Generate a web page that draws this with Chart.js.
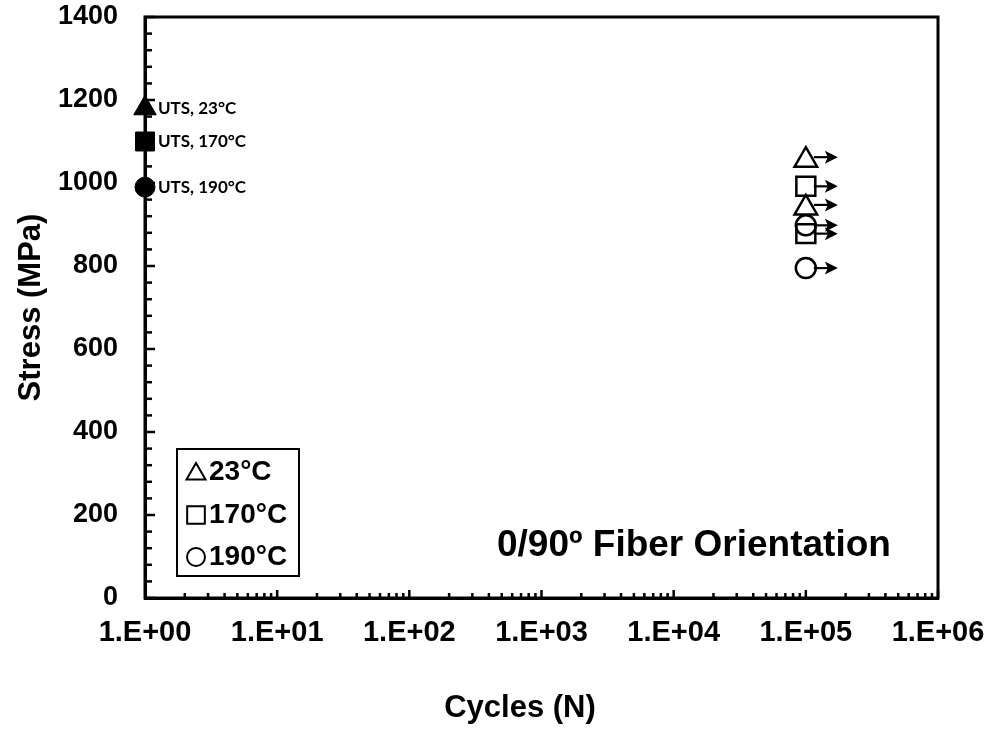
<!DOCTYPE html>
<html>
<head>
<meta charset="utf-8">
<script src="https://cdn.jsdelivr.net/npm/chart.js@4"></script>
<style>
  html, body { margin: 0; padding: 0; background: #fff; }
</style>
</head>
<body>
<canvas id="snChart" width="990" height="729"></canvas>
<script>
// data
const temps = ['23°C', '170°C', '190°C'];
const utsCycles = [1, 1, 1];
const utsStress = [1180, 1100, 990];
const runoutCycles = [1e5, 1e5];
const runout23 = [1055, 940];
const runout170 = [992, 878];
const runout190 = [898, 795];
const yTickValues = [0, 200, 400, 600, 800, 1000, 1200, 1400];
const xTickValues = [1, 10, 100, 1000, 10000, 100000, 1000000];
const xTickLabels = ['1.E+00', '1.E+01', '1.E+02', '1.E+03', '1.E+04', '1.E+05', '1.E+06'];

const FONT = "'Liberation Sans', Arial, sans-serif";
const shapes = ['triangle', 'rect', 'circle'];
const radii = [13, 13.4, 10];
const runouts = [runout23, runout170, runout190];

const datasets = [];
temps.forEach((t, i) => {
  datasets.push({
    label: 'UTS, ' + t,
    data: [{ x: utsCycles[i], y: utsStress[i] }],
    pointStyle: shapes[i],
    pointRadius: radii[i],
    backgroundColor: '#000',
    borderColor: '#000',
    borderWidth: 1,
    clip: false
  });
});
temps.forEach((t, i) => {
  datasets.push({
    label: t,
    runout: true,
    data: runoutCycles.map((c, j) => ({ x: c, y: runouts[i][j] })),
    pointStyle: shapes[i],
    pointRadius: radii[i],
    backgroundColor: 'rgba(0,0,0,0)',
    borderColor: '#000',
    borderWidth: 2.5,
    clip: false
  });
});

function marker(ctx, shape, cx, cy, r) {
  ctx.beginPath();
  if (shape === 'triangle') {
    ctx.moveTo(cx, cy - r);
    ctx.lineTo(cx + r * 0.866, cy + r / 2);
    ctx.lineTo(cx - r * 0.866, cy + r / 2);
    ctx.closePath();
  } else if (shape === 'rect') {
    const s = r * Math.SQRT1_2;
    ctx.rect(cx - s, cy - s, 2 * s, 2 * s);
  } else {
    ctx.arc(cx, cy, r, 0, Math.PI * 2);
  }
  ctx.stroke();
}

const decor = {
  id: 'decor',
  afterDraw(chart) {
    const { ctx, chartArea: a, scales: { x, y } } = chart;
    ctx.save();
    ctx.strokeStyle = '#000';
    ctx.fillStyle = '#000';

    // inside tick marks
    ctx.lineWidth = 2.5;
    for (let v = 0; v <= 1400; v += 40) {
      const py = y.getPixelForValue(v);
      const len = v % 200 === 0 ? 10 : 7;
      ctx.beginPath();
      ctx.moveTo(a.left, py);
      ctx.lineTo(a.left + len, py);
      ctx.stroke();
    }
    for (let d = 1; d < 1e6; d *= 10) {
      for (let m = 2; m <= 10; m++) {
        const px = x.getPixelForValue(d * m);
        const len = m === 10 ? 8 : 5;
        ctx.beginPath();
        ctx.moveTo(px, a.bottom);
        ctx.lineTo(px, a.bottom - len);
        ctx.stroke();
      }
    }

    // plot frame
    ctx.lineWidth = 3;
    ctx.strokeRect(a.left, a.top, a.right - a.left, a.bottom - a.top);

    // run-out arrows
    ctx.lineWidth = 2.2;
    chart.data.datasets.forEach(ds => {
      if (!ds.runout) return;
      ds.data.forEach(p => {
        const px = x.getPixelForValue(p.x);
        const py = y.getPixelForValue(p.y) - (ds.pointStyle === 'triangle' ? 3 : 0);
        const tip = px + 32;
        ctx.beginPath();
        ctx.moveTo(px + 8, py);
        ctx.lineTo(tip - 4, py);
        ctx.stroke();
        ctx.beginPath();
        ctx.moveTo(tip, py);
        ctx.lineTo(tip - 13, py - 6.5);
        ctx.lineTo(tip - 10, py);
        ctx.lineTo(tip - 13, py + 6.5);
        ctx.closePath();
        ctx.fill();
      });
    });

    // UTS labels
    ctx.font = "bold 17px Lato, 'Noto Sans', sans-serif";
    ctx.textAlign = 'left';
    ctx.textBaseline = 'middle';
    temps.forEach((t, i) => {
      ctx.fillText('UTS, ' + t, x.getPixelForValue(utsCycles[i]) + 13, y.getPixelForValue(utsStress[i]));
    });

    // legend box
    ctx.lineWidth = 2;
    ctx.strokeRect(177, 449, 122, 127);
    ctx.font = 'bold 28px ' + FONT;
    const rowY = [472, 515, 557];
    const legR = [11, 12.5, 9];
    temps.forEach((t, i) => {
      ctx.lineWidth = 2;
      marker(ctx, shapes[i], 196, rowY[i] + (i === 0 ? 2 : 0), legR[i]);
      ctx.fillText(t, 209, rowY[i]);
    });

    // annotation
    ctx.font = 'bold 37px ' + FONT;
    ctx.fillText('0/90º Fiber Orientation', 497, 546);

    // x axis title
    ctx.font = 'bold 31px ' + FONT;
    ctx.textAlign = 'center';
    ctx.fillText('Cycles (N)', 520, 708);
    ctx.restore();
  }
};

new Chart(document.getElementById('snChart'), {
  type: 'scatter',
  data: { datasets },
  plugins: [decor],
  options: {
    responsive: false,
    animation: false,
    layout: { padding: { top: 17, right: 52, left: 0, bottom: 0 } },
    plugins: { legend: { display: false }, tooltip: { enabled: false } },
    scales: {
      x: {
        type: 'logarithmic',
        min: 1,
        max: 1e6,
        afterBuildTicks: s => { s.ticks = xTickValues.map(v => ({ value: v })); },
        afterFit: s => { s.height = 131; s.paddingLeft = 0; s.paddingRight = 0; },
        grid: { display: false, drawTicks: false },
        border: { display: true, color: '#000', width: 3 },
        ticks: {
          padding: 18,
          color: '#000',
          maxRotation: 0,
          autoSkip: false,
          font: { family: FONT, size: 29, weight: 'bold' },
          callback: v => xTickLabels[xTickValues.indexOf(v)] || ''
        }
      },
      y: {
        min: 0,
        max: 1400,
        afterBuildTicks: s => { s.ticks = yTickValues.map(v => ({ value: v })); },
        afterFit: s => { s.width = 145; s.paddingTop = 0; s.paddingBottom = 0; },
        grid: { display: false, drawTicks: false },
        border: { display: true, color: '#000', width: 3 },
        ticks: {
          padding: 27,
          color: '#000',
          font: { family: FONT, size: 27, weight: 'bold' },
          callback: v => String(v)
        },
        title: {
          display: true,
          text: 'Stress (MPa)',
          color: '#000',
          padding: { top: 13 },
          font: { family: FONT, size: 31, weight: 'bold' }
        }
      }
    }
  }
});
</script>
</body>
</html>
